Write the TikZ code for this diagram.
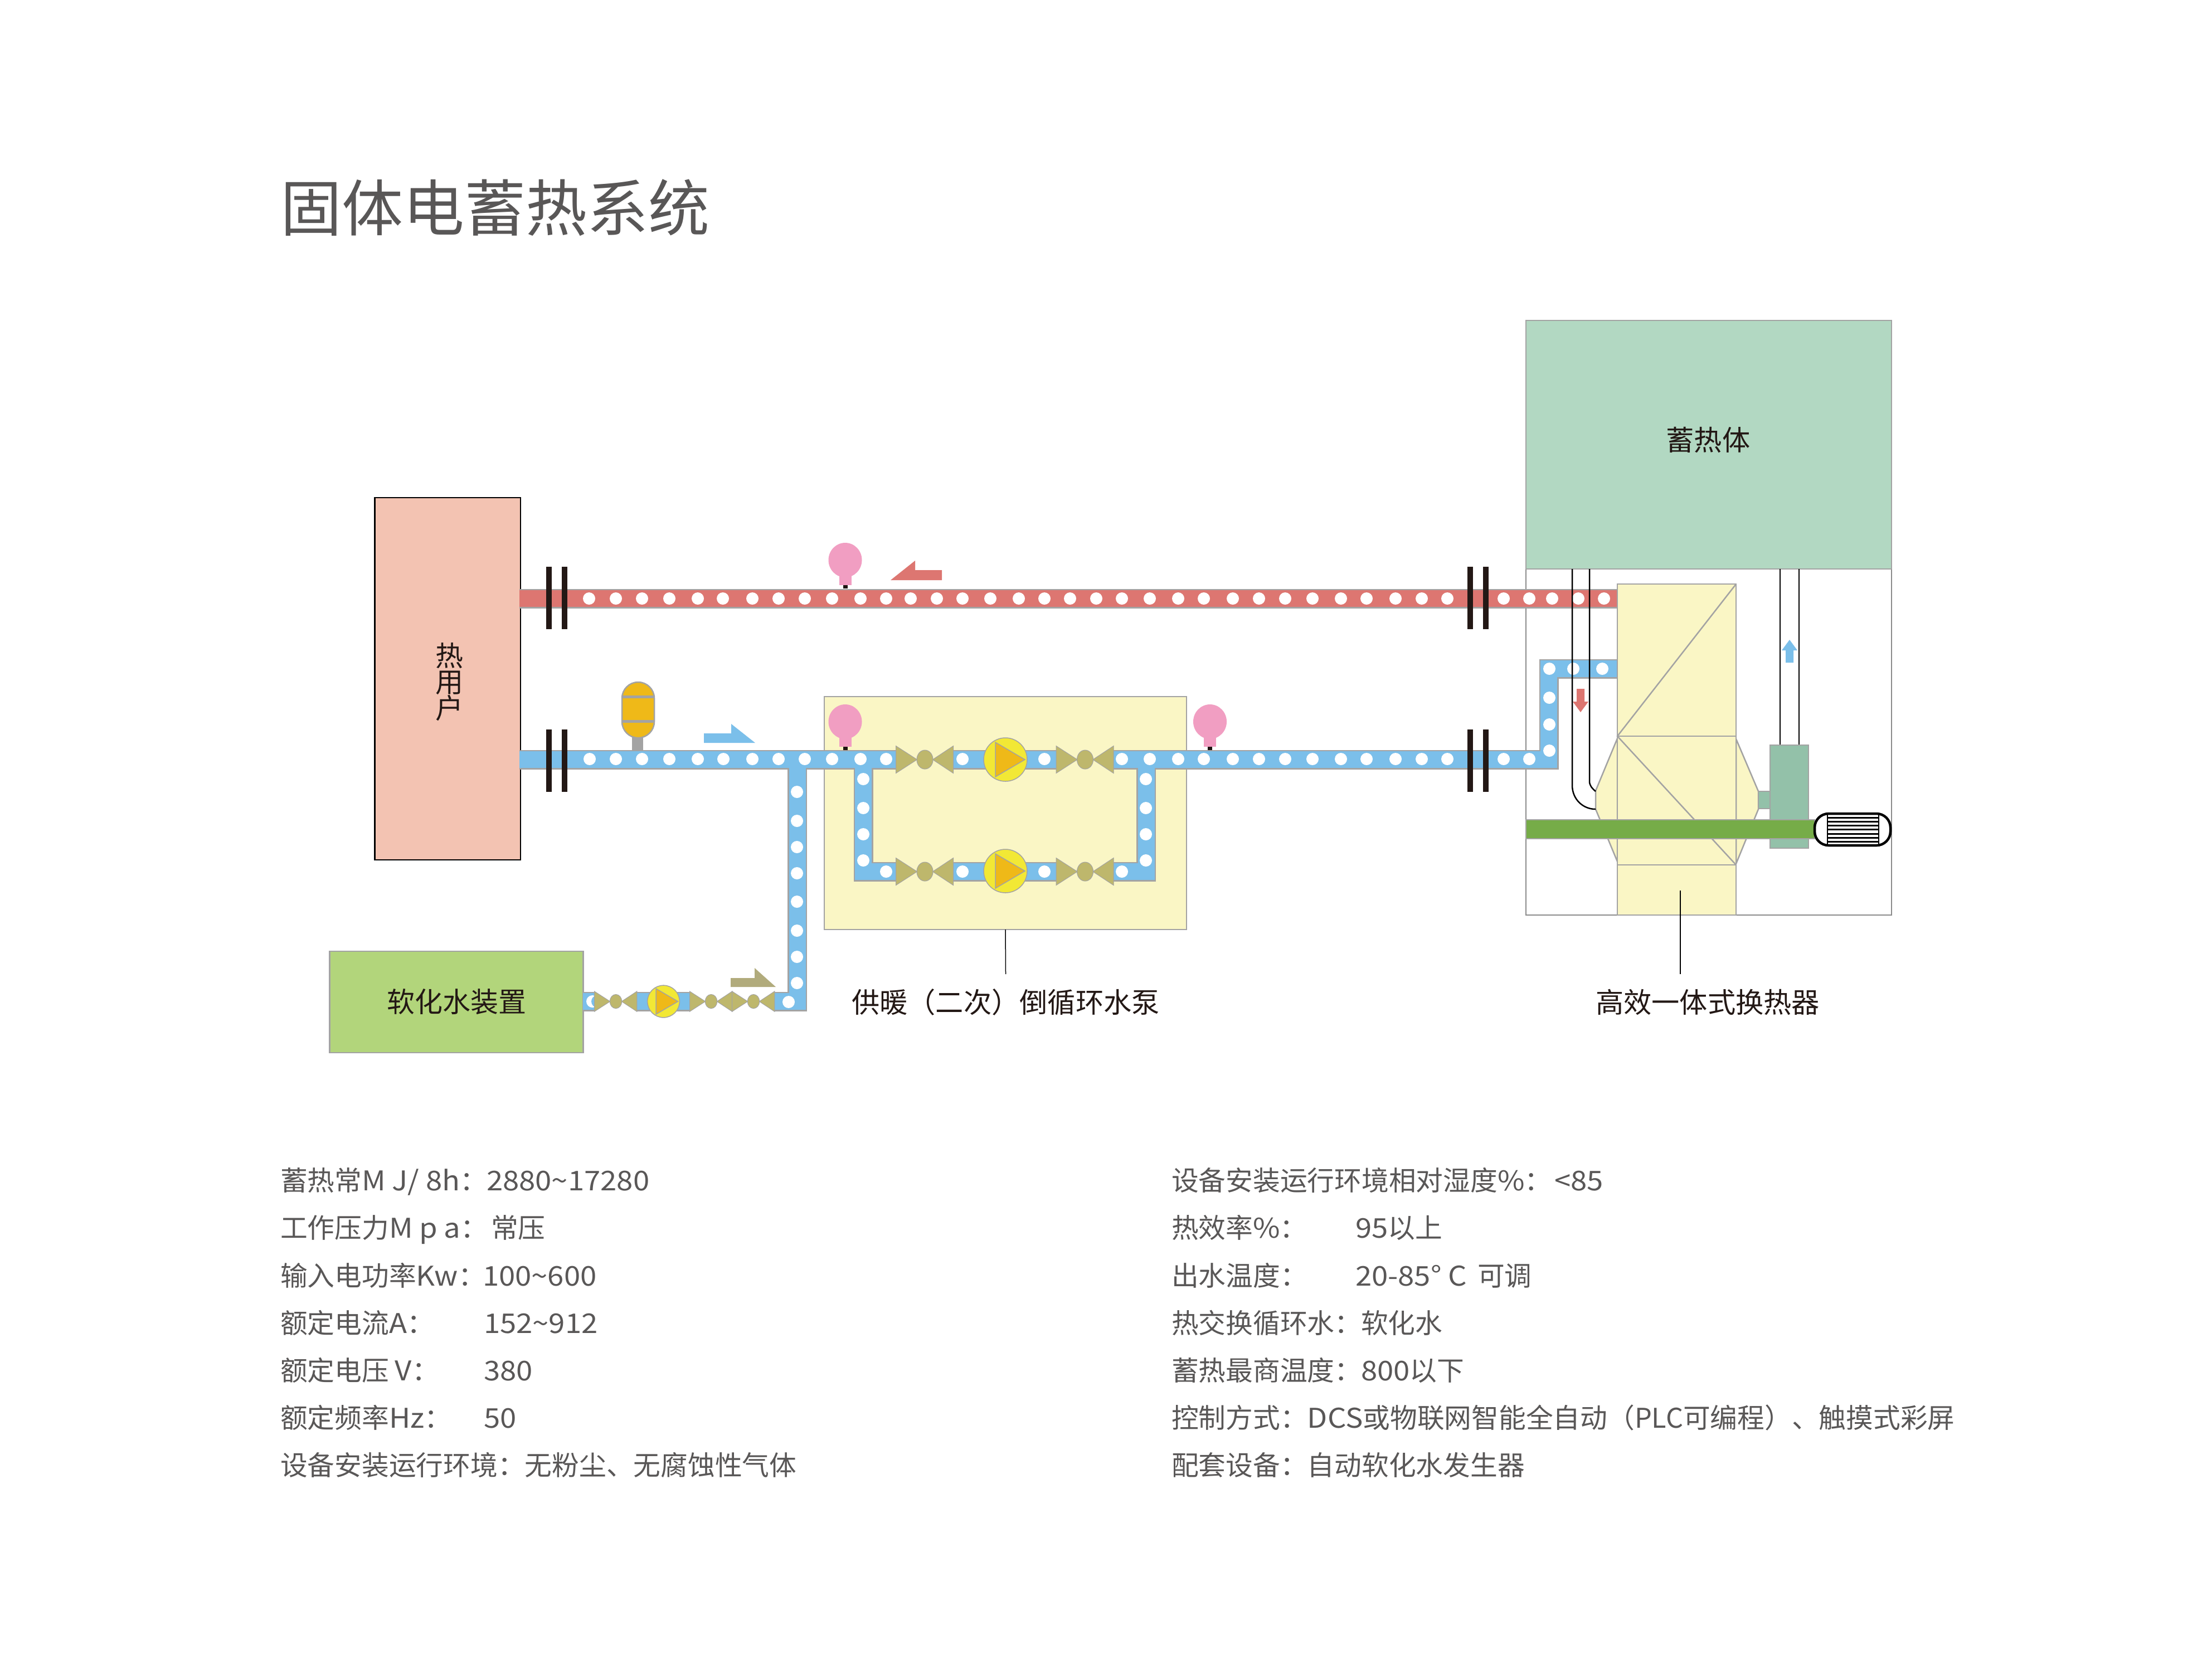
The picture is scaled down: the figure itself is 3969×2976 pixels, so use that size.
\documentclass[tikz,border=0pt]{standalone}
\usepackage{fontspec}
\setmainfont{Noto Sans CJK SC}
\newfontfamily\wide[FakeStretch=1.08]{Noto Sans CJK SC}
\definecolor{pipered}{HTML}{DD7671}
\definecolor{pipeblue}{HTML}{7BBFEA}
\definecolor{edgegray}{HTML}{A3A3A3}
\definecolor{paleyellow}{HTML}{FAF6C5}
\definecolor{storegreen}{HTML}{B2D8C2}
\definecolor{peach}{HTML}{F3C3B2}
\definecolor{softgreen}{HTML}{B2D57B}
\definecolor{tealbox}{HTML}{93C1A9}
\definecolor{shaftgreen}{HTML}{76AC48}
\definecolor{gaugepink}{HTML}{F19EC2}
\definecolor{amber}{HTML}{EFB918}
\definecolor{lemon}{HTML}{F2E835}
\definecolor{valvec}{HTML}{BEB76C}
\definecolor{brownarrow}{HTML}{B1AB7C}
\definecolor{inkc}{HTML}{231815}
\definecolor{txtgray}{HTML}{595757}
\tikzset{
  boxnode/.style={rectangle,inner sep=0pt,outer sep=0pt,draw=edgegray,line width=0.5pt,text=inkc,font=\fontsize{10}{12}\selectfont},
  lbl/.style={inner sep=0pt,outer sep=0pt,text=inkc,font=\fontsize{10.05}{12}\selectfont},
  txt/.style={anchor=base west,inner sep=0pt,outer sep=0pt,text=txtgray,font=\fontsize{9.75}{11.7}\selectfont},
  pipeedge/.style={draw=edgegray,line width=7pt},
  pipefillr/.style={draw=pipered,line width=6pt},
  pipefillb/.style={draw=pipeblue,line width=6pt},
  flange/.style={fill=inkc},
  ex/.style={fill=paleyellow,draw=edgegray,line width=0.5pt},
  thinb/.style={draw=black,line width=0.5pt},
  valve/.pic={
    \filldraw[fill=valvec,draw=edgegray,line width=0.2pt] (-52,-24.5)--(-14,0)--(-52,24.5)--cycle;
    \filldraw[fill=valvec,draw=edgegray,line width=0.2pt] (51,-24.5)--(14,0)--(51,24.5)--cycle;
    \filldraw[fill=valvec,draw=edgegray,line width=0.2pt] (0,0) ellipse [x radius=2.9pt,y radius=3.4pt];
  },
  pump/.pic={
    \filldraw[fill=lemon,draw=edgegray,line width=0.3pt] (0,0) circle [radius=7.8pt];
    \filldraw[fill=amber,draw=edgegray,line width=0.3pt] (-18,-31)--(-18,31)--(35,0)--cycle;
  },
  gauge/.pic={
    \fill[gaugepink] (0,-51) ellipse [x radius=6pt,y radius=6.2pt];
    \fill[gaugepink] (-11,-26) rectangle (11,-6);
    \fill[inkc!85!black] (-4,-6) rectangle (4,0);
  }
}
\begin{document}
\begin{tikzpicture}[x=0.2pt,y=-0.2pt]
\useasboundingbox (0,0) rectangle (3969,2976);
\fill[white] (0,0) rectangle (3969,2976);

% title
\node[txt,font=\fontsize{22}{26}\selectfont] (title) at (503,414) {固体电蓄热系统};

% frame and storage
\draw[draw=edgegray!85!black,line width=0.5pt,fill=white] (2738,1021) rectangle (3394,1642);
\node[boxnode,fill=storegreen,minimum width=131.2pt,minimum height=89.2pt] (store) at (3066,798) {};
\node[lbl] (storelabel) at (3065,789) {蓄热体};

% pump house
\node[boxnode,fill=paleyellow,minimum width=130pt,minimum height=83.6pt] (pumpbox) at (1804,1459) {};

% users and softener
\node[boxnode,draw=black,fill=peach,minimum width=52.3pt,minimum height=130pt] (user) at (803,1218) {};
\node[lbl,align=center,font=\fontsize{10}{9.4}\selectfont] (userlabel) at (806,1224) {热\\用\\户};
\node[boxnode,fill=softgreen,minimum width=91pt,minimum height=36.4pt] (soft) at (819,1798) {软化水装置};

% pipes
\draw[pipeedge] (932,1074)--(2902,1074);
\foreach \s in {pipeedge,pipefillb}{
  \draw[\s] (932,1363)--(1608,1363);
  \draw[\s] (1711,1363)--(1895,1363);
  \draw[\s] (1998,1363)--(2779,1363)--(2779,1200)--(2902,1200);
  \draw[\s] (1549,1363)--(1549,1564)--(1608,1564);
  \draw[\s] (1711,1564)--(1895,1564);
  \draw[\s] (1998,1564)--(2056.5,1564)--(2056.5,1363);
  \draw[\s] (1430.5,1363)--(1430.5,1797)--(1390,1797);
  \draw[\s] (1143,1797)--(1238,1797);
  \draw[\s] (1046,1797)--(1067,1797);
}
\draw[pipefillr] (932,1074)--(2902,1074);

% dots
\foreach \p in {1057,1105,1152,1201,1252,1297,1350,1397,1444,1493,1544,1590,1634,1681,1727,1777,1828,1874,1920,1967,2013,2063,2114,2160,2212,2259,2306,2355,2406,2452,2504,2551,2597,2698,2744,2785,2832,2878}
  \fill[white] (\p,1074) circle [radius=2.2pt];
\foreach \p in {1058,1105,1152,1201,1252,1298,1350,1397,1444,1493,1544,1590,1727,1874,2013,2063,2114,2160,2212,2259,2306,2355,2406,2452,2504,2551,2597,2698,2744}
  \fill[white] (\p,1362) circle [radius=2.2pt];
\foreach \p in {1727,1874,2013,1590}
  \fill[white] (\p,1564) circle [radius=2.2pt];
\foreach \p in {1398,1450,1497,1544}{
  \fill[white] (1549,\p) circle [radius=2.2pt];
  \fill[white] (2056,\p) circle [radius=2.2pt];
}
\foreach \p in {1421,1473,1520,1567,1618,1670,1717,1764}
  \fill[white] (1430,\p) circle [radius=2.2pt];
\fill[white] (1415,1798) circle [radius=2.2pt];
\foreach \p in {2780,2823,2875}
  \fill[white] (\p,1200) circle [radius=2.2pt];
\foreach \p in {1252,1300,1347}
  \fill[white] (2780,\p) circle [radius=2.2pt];
\begin{scope}
  \clip (1046,1781) rectangle (1067,1815);
  \fill[white] (1063,1797) circle [radius=2.2pt];
  \fill[pipeblue] (1072,1797) circle [radius=2.2pt];
\end{scope}

% flanges
\foreach \y in {1017,1309}{
  \fill[flange] (980,\y) rectangle ++(10,112);
  \fill[flange] (1008,\y) rectangle ++(10,112);
  \fill[flange] (2633,\y) rectangle ++(10,112);
  \fill[flange] (2661,\y) rectangle ++(10,112);
}

% valves and pumps, circulating loop
\foreach \y in {1363,1564}{
  \pic at (1659.5,\y) {valve};
  \pic at (1947,\y) {valve};
}
\pic at (1804,1363) {pump};
\pic at (1804,1563) {pump};
% softener line
\pic[scale=0.74] at (1105,1797) {valve};
\pic[scale=0.74] at (1276,1797) {valve};
\pic[scale=0.74] at (1352,1797) {valve};
\pic[scale=0.74] at (1190.5,1797) {pump};

% gauges
\pic at (1516.5,1056) {gauge};
\pic at (1516.5,1346) {gauge};
\pic at (2171,1346) {gauge};

% expansion tank
\fill[edgegray] (1134,1320) rectangle (1154,1346);
\filldraw[fill=amber,draw=edgegray,line width=0.5pt,rounded corners=5.8pt] (1116,1224) rectangle (1174,1324);
\fill[edgegray] (1116,1248) rectangle (1174,1253);
\fill[edgegray] (1116,1292) rectangle (1174,1297);

% flow arrows
\fill[pipered] (1598,1041)--(1642,1006)--(1642,1023)--(1690,1023)--(1690,1041)--cycle;
\fill[pipeblue] (1263,1316)--(1312,1316)--(1312,1299)--(1355,1333)--(1263,1333)--cycle;
\fill[brownarrow] (1311,1755)--(1354,1755)--(1354,1737)--(1392,1771)--(1311,1771)--cycle;
\fill[pipered] (2829,1236)--(2843,1236)--(2843,1259)--(2850,1259)--(2836,1278)--(2822,1259)--(2829,1259)--cycle;
\fill[pipeblue] (3204,1189)--(3218,1189)--(3218,1167)--(3225,1167)--(3211,1148)--(3197,1167)--(3204,1167)--cycle;

% heat exchanger
\draw[ex] (2902,1325)--(2863,1419)--(2863,1452)--(2902,1546)--cycle;
\draw[ex] (3115,1326)--(3155,1420)--(3155,1452)--(3115,1550)--cycle;
\draw[ex] (2902,1552) rectangle (3115,1642);
\draw[ex] (2902,1321) rectangle (3115,1552);
\draw[ex] (2902,1048) rectangle (3115,1321);
\draw[draw=edgegray,line width=0.5pt] (3115,1048)--(2902,1321)--(3115,1552);

% internal pipes
\draw[thinb] (2821,1021)--(2821,1409) .. controls (2821,1434) and (2840,1452) .. (2863,1452);
\draw[thinb] (2852,1021)--(2852,1402) .. controls (2852,1410) and (2857,1415) .. (2863,1420);
\draw[thinb] (3194,1021)--(3194,1337);
\draw[thinb] (3228,1021)--(3228,1337);

% fan and motor
\draw[fill=tealbox,draw=edgegray,line width=0.5pt] (3155,1420) rectangle (3176,1451);
\draw[fill=tealbox,draw=edgegray,line width=0.5pt] (3176,1337) rectangle (3245,1522);
\draw[fill=shaftgreen,draw=edgegray,line width=0.5pt] (2738,1471) rectangle (3256,1505);
\draw[draw=black,fill=white,line width=0.9pt,rounded corners=5pt] (3256,1460) rectangle (3392,1517);
\foreach \y in {1467,1474,1481,1488,1496,1503,1510}
  \draw[black,line width=0.6pt] (3279,\y)--(3371,\y);
\draw[black,line width=0.5pt] (3279,1460)--(3279,1517);
\draw[black,line width=0.5pt] (3371,1460)--(3371,1517);

% labels and leaders
\node[lbl,minimum height=20pt] (pumplabel) at (1804.5,1798) {供暖（二次）倒循环水泵};
\node[lbl,minimum height=20pt] (hxlabel) at (3064,1798) {高效一体式换热器};
\coordinate (hxtop) at (3015,1598);
\draw[black,line width=0.3pt] (pumpbox.south) -- (pumplabel.north);
\draw[black,line width=0.5pt] (hxtop) -- (hxtop |- hxlabel.north);

% left column
\node[txt] (a1) at (503,2136) {蓄热常{\wide M J/ 8h}：};
\node[txt] (a1v) at (873,2136) {\wide 2880\textasciitilde17280};
\node[txt] (a2) at (503,2221.5) {工作压力{\wide M p a}：};
\node[txt] (a2v) at (881,2221.5) {常压};
\node[txt] (a3) at (503,2307) {输入电功率{\wide Kw}：};
\node[txt] (a3v) at (866,2307) {\wide 100\textasciitilde600};
\node[txt] (a4) at (503,2392) {额定电流{\wide A}：};
\node[txt] (a4v) at (868,2392) {\wide 152\textasciitilde912};
\node[txt] (a5) at (503,2477) {额定电压 {\wide V}：};
\node[txt] (a5v) at (868,2477) {\wide 380};
\node[txt] (a6) at (503,2562) {额定频率{\wide Hz}：};
\node[txt] (a6v) at (868,2562) {\wide 50};
\node[txt] (a7) at (503,2647) {设备安装运行环境：无粉尘、无腐蚀性气体};

% right column
\node[txt] (b1) at (2102,2136) {设备安装运行环境相对湿度{\wide\%}：};
\node[txt] (b1v) at (2789,2136) {\wide <85};
\node[txt] (b2) at (2102,2221.5) {热效率{\wide\%}：};
\node[txt] (b2v) at (2432,2221.5) {{\wide 95}以上};
\node[txt] (b3) at (2102,2307) {出水温度：};
\node[txt] (b3v) at (2432,2307) {{\wide 20-85° C} \,可调};
\node[txt] (b4) at (2102,2392) {热交换循环水：};
\node[txt] (b4v) at (2442,2392) {软化水};
\node[txt] (b5) at (2102,2477) {蓄热最商温度：};
\node[txt] (b5v) at (2442,2477) {{\wide 800}以下};
\node[txt] (b6) at (2102,2562) {控制方式：{\wide DCS}或物联网智能全自动（PLC可编程）、触摸式彩屏};
\node[txt] (b7) at (2102,2647) {配套设备：自动软化水发生器};
\end{tikzpicture}
\end{document}
